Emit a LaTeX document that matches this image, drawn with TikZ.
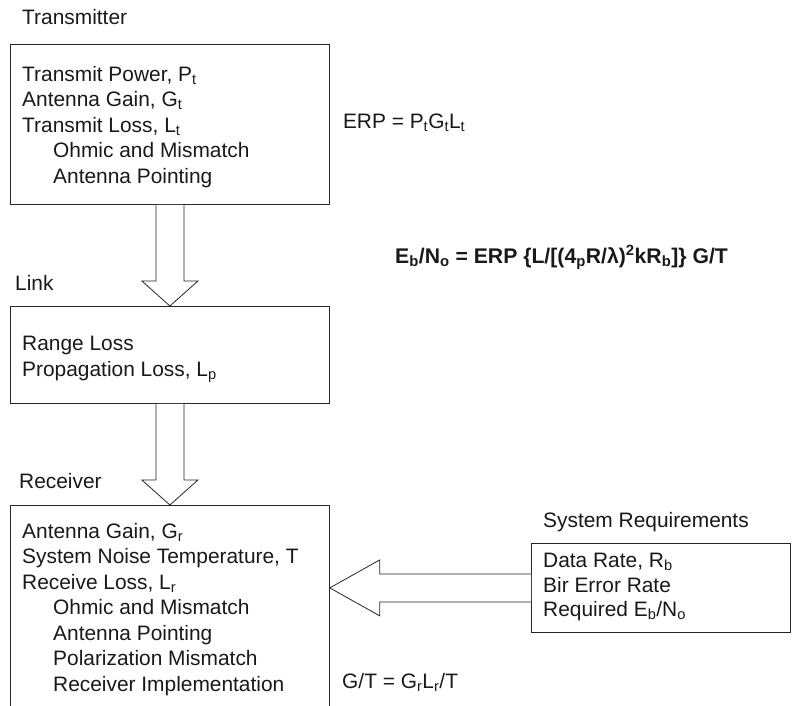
\documentclass[tikz,border=0pt]{standalone}
\usepackage{fontspec}
\setmainfont{Liberation Sans}
\usetikzlibrary{positioning,calc}

\begin{document}
\begin{tikzpicture}[
    x=1pt, y=-1pt,
    every node/.style={font=\fontsize{20.9}{25.5}\selectfont, text=black!90, inner sep=0pt},
    blockbox/.style={draw=black!85, line width=0.8pt, minimum width=319pt, anchor=north west},
    listtext/.style={anchor=base west, align=left},
    hollow/.style={draw=black!85, line width=0.8pt, fill=white, line join=miter}]
  \path[use as bounding box, clip] (0,0) rectangle (793,706);

  % transmitter
  \node[blockbox, minimum height=160pt] (tx) at (10,44) {};
  \node[listtext] (txlabel) at ([xshift=12pt, yshift=19pt]tx.north west) {Transmitter};
  % (base of a multi-line node = its last line)
  \node[listtext] (txlist) at ([xshift=12pt, yshift=-139pt]tx.north west)
    {Transmit Power, P\textsubscript{t}\\
     Antenna Gain, G\textsubscript{t}\\
     Transmit Loss, L\textsubscript{t}\\
     \hspace*{31pt}Ohmic and Mismatch\\
     \hspace*{31pt}Antenna Pointing};
  \node[listtext] (erp) at ([xshift=13pt, yshift=-4pt]tx.east)
    {ERP = P\textsubscript{t}G\textsubscript{t}L\textsubscript{t}};

  % link
  \node[blockbox, minimum height=97pt] (lk) at (10,306) {};
  \node[listtext] (lklabel) at ([xshift=5pt, yshift=16pt]lk.north west) {Link};
  \node[listtext] (lklist) at ([xshift=12pt, yshift=-70pt]lk.north west)
    {Range Loss\\
     Propagation Loss, L\textsubscript{p}};
  \node[listtext, font=\fontsize{21.2}{25.5}\selectfont\bfseries] (ebno) at (395,263)
    {E\textsubscript{b}/N\textsubscript{o} = ERP \{L/[(4\textsubscript{p}R/λ)\textsuperscript{2}kR\textsubscript{b}]\} G/T};

  % receiver (runs off the bottom)
  \node[blockbox, minimum height=220pt] (rx) at (10,505) {};
  \node[listtext] (rxlabel) at ([xshift=9pt, yshift=17pt]rx.north west) {Receiver};
  \node[listtext] (rxlist) at ([xshift=12pt, yshift=-186pt]rx.north west)
    {Antenna Gain, G\textsubscript{r}\\
     System Noise Temperature, T\\
     Receive Loss, L\textsubscript{r}\\
     \hspace*{31pt}Ohmic and Mismatch\\
     \hspace*{31pt}Antenna Pointing\\
     \hspace*{31pt}Polarization Mismatch\\
     \hspace*{31pt}Receiver Implementation};
  \node[listtext] (gt) at (342,688) {G/T = G\textsubscript{r}L\textsubscript{r}/T};

  % system requirements
  \node[blockbox, minimum width=259pt, minimum height=89pt] (req) at (531,543) {};
  \node[listtext] (reqlabel) at ([xshift=12pt, yshift=16pt]req.north west) {System Requirements};
  \node[listtext, font=\fontsize{20.9}{24.5}\selectfont] (reqlist) at ([xshift=12pt, yshift=-73.5pt]req.north west)
    {Data Rate, R\textsubscript{b}\\
     Bir Error Rate\\
     Required E\textsubscript{b}/N\textsubscript{o}};

  % block arrows
  \draw[hollow] ([xshift=-14pt]tx.south) -- ([xshift=-14pt, yshift=25pt]lk.north)
    -- ([xshift=-28pt, yshift=25pt]lk.north) -- (lk.north)
    -- ([xshift=28pt, yshift=25pt]lk.north) -- ([xshift=14pt, yshift=25pt]lk.north)
    -- ([xshift=14pt]tx.south);
  \draw[hollow] ([xshift=-14pt]lk.south) -- ([xshift=-14pt, yshift=25pt]rx.north)
    -- ([xshift=-28pt, yshift=25pt]rx.north) -- (rx.north)
    -- ([xshift=28pt, yshift=25pt]rx.north) -- ([xshift=14pt, yshift=25pt]rx.north)
    -- ([xshift=14pt]lk.south);
  \coordinate (tip) at (rx.east |- req.west);
  \draw[hollow] ([yshift=14pt]req.west) -- ([xshift=50pt, yshift=14pt]tip)
    -- ([xshift=50pt, yshift=28pt]tip) -- (tip)
    -- ([xshift=50pt, yshift=-28pt]tip) -- ([xshift=50pt, yshift=-14pt]tip)
    -- ([yshift=-14pt]req.west);
\end{tikzpicture}
\end{document}
